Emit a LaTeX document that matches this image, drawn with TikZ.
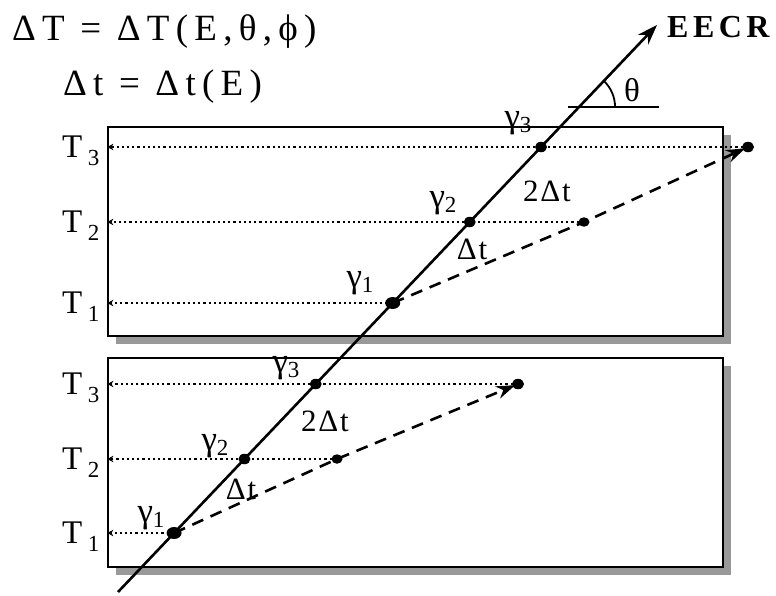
\documentclass[tikz,border=0pt]{standalone}
\usepackage{fontspec}
\setmainfont{Liberation Serif}
\usetikzlibrary{arrows.meta,calc,shadows,shapes.geometric}
\definecolor{shadowgray}{RGB}{153,153,153}
\begin{document}
\begin{tikzpicture}[x=1pt,y=-1pt,
 box/.style={draw=black,line width=1.2pt,fill=white,minimum width=615pt,minimum height=209pt,inner sep=0pt,
   drop shadow={shadow xshift=8pt,shadow yshift=-8pt,fill=shadowgray,opacity=1}},
 ray/.style={line width=2.6pt,-{Stealth[length=20pt,width=14pt]}},
 trail/.style={line width=2.6pt,dash pattern=on 12pt off 8pt,-{Stealth[length=19pt,width=13pt]},shorten >=3pt},
 timeline/.style={line width=2.2pt,dash pattern=on 2.2pt off 3pt,-{Stealth[length=6pt,width=6.5pt]}},
 dot/.style={ellipse,fill=black,inner sep=0pt,minimum width=12pt,minimum height=10.5pt},
 bigdot/.style={ellipse,fill=black,inner sep=0pt,minimum width=15pt,minimum height=12pt},
 glbl/.style={inner sep=0pt,font=\fontsize{35}{35}\selectfont},
 dlbl/.style={inner sep=0pt,font=\fontsize{31}{31}\selectfont\addfontfeature{LetterSpace=6}},
 tlbl/.style={inner sep=0pt,anchor=base west,font=\fontsize{33}{33}\selectfont},
]
\useasboundingbox (0,0) rectangle (776,595);
% boxes
\node[box] (topbox) at (415.5,231.5) {};
\node[box] (botbox) at (415.5,462.5) {};
% EECR line end points
\coordinate (ein) at (118,592);
\coordinate (eout) at (657,25);
% points on the ray
\coordinate (g1b) at ($(ein)!{59/567}!(eout)$);
\coordinate (g2b) at ($(ein)!{133/567}!(eout)$);
\coordinate (g3b) at ($(ein)!{208/567}!(eout)$);
\coordinate (g1t) at ($(ein)!{289/567}!(eout)$);
\coordinate (g2t) at ($(ein)!{370/567}!(eout)$);
\coordinate (g3t) at ($(ein)!{445/567}!(eout)$);
\coordinate (thc) at ($(ein)!{485/567}!(eout)$);
% delayed points
\coordinate (d2b) at (337,459);
\coordinate (d3b) at (518,384);
\coordinate (d2t) at (584,222);
\coordinate (d3t) at (748,147);
% dotted time lines
\foreach \p in {g1b,d2b,d3b,g1t,d2t,d3t}{
  \draw[timeline] (\p) -- (topbox.west |- \p);
}
% dashed trails
\draw[trail] (g1b) -- (d2b) -- (d3b);
\draw[trail] (g1t) -- (d2t) -- (d3t);
% ray
\draw[ray] (ein) -- (eout);
% dots
\node[bigdot] at (g1b) {};
\node[dot] at (g2b) {};
\node[dot] at (g3b) {};
\node[bigdot] at (g1t) {};
\node[dot] at (g2t) {};
\node[dot] at (g3t) {};
\node[dot,minimum width=11pt,minimum height=9.5pt] at (d2b) {};
\node[dot] at (d3b) {};
\node[dot,minimum width=11pt,minimum height=9.5pt] at (d2t) {};
\node[dot] at (d3t) {};
% angle
\coordinate (hl1) at (568,107);
\coordinate (hl2) at (659,107);
\draw[line width=1.8pt] (hl1) -- (hl2);
\draw[line width=1.8pt] (thc) ++(36,0) arc[start angle=0,end angle=-46.5,radius=36];
\node[inner sep=0pt,font=\fontsize{33}{33}\selectfont] (theta) at (632,90) {θ};
\node[inner sep=0pt,anchor=base west,font=\fontsize{32}{32}\selectfont\bfseries\addfontfeature{LetterSpace=14}] (eecr) at (667,37) {EECR};
% formulas
\node[inner sep=0pt,anchor=base west,font=\fontsize{37}{37}\selectfont\addfontfeature{LetterSpace=17}] (f1) at (12,40) {ΔT = ΔT(E,θ,ϕ)};
\node[inner sep=0pt,anchor=base west,font=\fontsize{37}{37}\selectfont\addfontfeature{LetterSpace=17}] (f2) at (63,95) {Δt = Δt(E)};
% T labels
\node[tlbl] (T3t) at (62,157) {T\,\raisebox{-8pt}{\fontsize{23}{23}\selectfont 3}};
\node[tlbl] (T2t) at (62,232) {T\,\raisebox{-8pt}{\fontsize{23}{23}\selectfont 2}};
\node[tlbl] (T1t) at (62,313) {T\,\raisebox{-8pt}{\fontsize{23}{23}\selectfont 1}};
\node[tlbl] (T3b) at (62,394) {T\,\raisebox{-8pt}{\fontsize{23}{23}\selectfont 3}};
\node[tlbl] (T2b) at (62,469) {T\,\raisebox{-8pt}{\fontsize{23}{23}\selectfont 2}};
\node[tlbl] (T1b) at (62,543) {T\,\raisebox{-8pt}{\fontsize{23}{23}\selectfont 1}};
% gamma labels
\node[glbl] (ga3t) at (518,123) {γ\raisebox{-5pt}{\fontsize{23}{23}\selectfont 3}};
\node[glbl] (ga2t) at (443,203) {γ\raisebox{-5pt}{\fontsize{23}{23}\selectfont 2}};
\node[glbl] (ga1t) at (360,283) {γ\raisebox{-5pt}{\fontsize{23}{23}\selectfont 1}};
\node[glbl] (ga3b) at (286,368) {γ\raisebox{-5pt}{\fontsize{23}{23}\selectfont 3}};
\node[glbl] (ga2b) at (215,446) {γ\raisebox{-5pt}{\fontsize{23}{23}\selectfont 2}};
\node[glbl] (ga1b) at (151,518) {γ\raisebox{-5pt}{\fontsize{23}{23}\selectfont 1}};
% delta labels
\node[dlbl] (dt2t) at (547,191) {2Δt};
\node[dlbl] (dt1t) at (472,249) {Δt};
\node[dlbl] (dt2b) at (325,421) {2Δt};
\node[dlbl] (dt1b) at (241,489) {Δt};
\end{tikzpicture}
\end{document}
